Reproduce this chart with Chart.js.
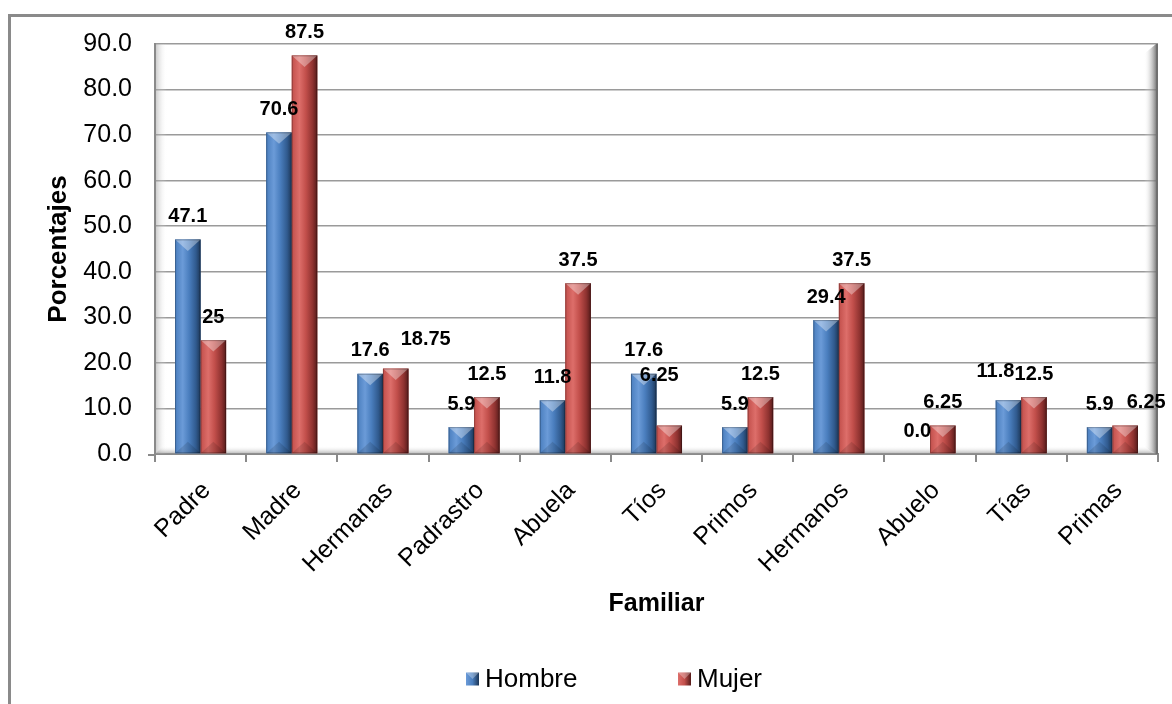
<!DOCTYPE html>
<html>
<head>
<meta charset="utf-8">
<script src="https://cdn.jsdelivr.net/npm/chart.js@4.4.1/dist/chart.umd.min.js"></script>
<style>
  html, body { margin: 0; padding: 0; background: #ffffff; }
  canvas { display: block; }
</style>
</head>
<body>
<canvas id="grafico" width="1172" height="704"></canvas>
<script>
// Familiares y porcentajes por sexo
const familiares = ['Padre', 'Madre', 'Hermanas', 'Padrastro', 'Abuela', 'Tíos', 'Primos', 'Hermanos', 'Abuelo', 'Tías', 'Primas'];
const hombre = [47.1, 70.6, 17.6, 5.9, 11.8, 17.6, 5.9, 29.4, 0.0, 11.8, 5.9];
const mujer = [25, 87.5, 18.75, 12.5, 37.5, 6.25, 12.5, 37.5, 6.25, 12.5, 6.25];
const ejeY = { min: 0, max: 90, paso: 10 };

const FUENTE = "'Liberation Sans', Arial, sans-serif";

// Tonos del relieve de cada serie: [claro, medio, oscuro, sombra]
const tonos = {
  Hombre: ['#6b9bd8', '#4a7ebe', '#305a8e', '#1d3656'],
  Mujer:  ['#dd6e6a', '#c24f4b', '#8e3230', '#551b1a']
};

// Marco exterior y paredes del área de trazado
const paredes = {
  id: 'paredes',
  beforeDraw(chart) {
    const ctx = chart.ctx;
    ctx.save();
    ctx.strokeStyle = '#8a8a8a';
    ctx.lineWidth = 3;
    ctx.beginPath();
    ctx.moveTo(9.5, 710);
    ctx.lineTo(9.5, 15.5);
    ctx.lineTo(1180, 15.5);
    ctx.stroke();
    ctx.restore();
  },
  beforeDatasetsDraw(chart) {
    const { ctx, chartArea: a } = chart;
    ctx.save();
    // pared izquierda
    let g = ctx.createLinearGradient(a.left, 0, a.left + 12, 0);
    g.addColorStop(0, 'rgba(150,150,150,0.55)');
    g.addColorStop(1, 'rgba(255,255,255,0)');
    ctx.fillStyle = g;
    ctx.fillRect(a.left + 1, a.top, 12, a.bottom - a.top);
    // suelo
    g = ctx.createLinearGradient(0, a.bottom - 8, 0, a.bottom);
    g.addColorStop(0, 'rgba(255,255,255,0)');
    g.addColorStop(1, 'rgba(140,140,140,0.7)');
    ctx.fillStyle = g;
    ctx.beginPath();
    ctx.moveTo(a.left + 8, a.bottom - 8);
    ctx.lineTo(a.right - 12, a.bottom - 8);
    ctx.lineTo(a.right - 2, a.bottom);
    ctx.lineTo(a.left, a.bottom);
    ctx.closePath();
    ctx.fill();
    // pared derecha
    g = ctx.createLinearGradient(a.right - 14, 0, a.right - 2, 0);
    g.addColorStop(0, 'rgba(255,255,255,0)');
    g.addColorStop(1, 'rgba(110,110,110,0.85)');
    ctx.fillStyle = g;
    ctx.beginPath();
    ctx.moveTo(a.right - 14, a.top + 10);
    ctx.lineTo(a.right - 2, a.top);
    ctx.lineTo(a.right - 2, a.bottom);
    ctx.lineTo(a.right - 14, a.bottom - 8);
    ctx.closePath();
    ctx.fill();
    ctx.strokeStyle = '#6f6f6f';
    ctx.lineWidth = 2;
    ctx.beginPath();
    ctx.moveTo(a.right - 1, a.top);
    ctx.lineTo(a.right - 1, a.bottom);
    ctx.stroke();
    // prolongación del eje horizontal a la izquierda
    ctx.strokeStyle = '#8a8a8a';
    ctx.beginPath();
    ctx.moveTo(a.left - 7, a.bottom + 1);
    ctx.lineTo(a.left, a.bottom + 1);
    ctx.stroke();
    ctx.restore();
  }
};

// Barras con biselado
function pintarBarra(ctx, el, t) {
  const { x, y, base, width } = el.getProps(['x', 'y', 'base', 'width'], true);
  const h = base - y;
  if (h <= 0.5) return;
  const l = x - width / 2, r = x + width / 2;
  const g = ctx.createLinearGradient(l, 0, r, 0);
  g.addColorStop(0, t[1]);
  g.addColorStop(0.3, t[0]);
  g.addColorStop(0.55, t[1]);
  g.addColorStop(0.82, t[2]);
  g.addColorStop(1, t[3]);
  ctx.fillStyle = g;
  ctx.fillRect(l, y, width, h);
  const d = Math.min(width * 0.45, h / 2);
  // cara superior
  ctx.fillStyle = 'rgba(255,255,255,0.35)';
  ctx.beginPath();
  ctx.moveTo(l, y); ctx.lineTo(r, y); ctx.lineTo(x, y + d); ctx.closePath();
  ctx.fill();
  // cara inferior
  ctx.fillStyle = 'rgba(0,0,0,0.12)';
  ctx.beginPath();
  ctx.moveTo(l, base); ctx.lineTo(r, base); ctx.lineTo(x, base - d); ctx.closePath();
  ctx.fill();
  ctx.strokeStyle = 'rgba(0,0,0,0.25)';
  ctx.lineWidth = 1;
  ctx.strokeRect(l + 0.5, y + 0.5, width - 1, h - 1);
}

const relieve = {
  id: 'relieve',
  afterDatasetsDraw(chart) {
    const ctx = chart.ctx;
    ctx.save();
    chart.data.datasets.forEach((ds, i) => {
      const meta = chart.getDatasetMeta(i);
      meta.data.forEach(el => pintarBarra(ctx, el, tonos[ds.label]));
    });
    ctx.restore();
  }
};

// Etiquetas de valor sobre las barras
const etiquetas = {
  id: 'etiquetas',
  afterDatasetsDraw(chart, args, opts) {
    const ctx = chart.ctx;
    ctx.save();
    ctx.font = 'bold 20px ' + FUENTE;
    ctx.fillStyle = '#000';
    ctx.textAlign = 'center';
    ctx.textBaseline = 'middle';
    chart.data.datasets.forEach((ds, i) => {
      const meta = chart.getDatasetMeta(i);
      const ajuste = opts.ajustes[ds.label] || {};
      meta.data.forEach((el, j) => {
        const v = ds.data[j];
        const txt = ds.label === 'Hombre' ? v.toFixed(1) : String(v);
        const a = ajuste[j] || [0, 0];
        ctx.fillText(txt, el.x + a[0], el.y - 23 + a[1]);
      });
    });
    ctx.restore();
  }
};

// Leyenda inferior
const leyenda = {
  id: 'leyenda',
  afterDraw(chart, args, opts) {
    const ctx = chart.ctx;
    ctx.save();
    ctx.font = '26px ' + FUENTE;
    ctx.textBaseline = 'middle';
    chart.data.datasets.forEach((ds, i) => {
      const bx = opts.posiciones[i], by = opts.y;
      const t = tonos[ds.label];
      const g = ctx.createLinearGradient(bx, 0, bx + 13, 0);
      g.addColorStop(0, t[0]); g.addColorStop(0.5, t[1]); g.addColorStop(1, t[3]);
      ctx.fillStyle = g;
      ctx.fillRect(bx, by - 6.5, 13, 13);
      ctx.fillStyle = 'rgba(255,255,255,0.3)';
      ctx.beginPath();
      ctx.moveTo(bx, by - 6.5); ctx.lineTo(bx + 13, by - 6.5); ctx.lineTo(bx + 6.5, by); ctx.closePath();
      ctx.fill();
      ctx.fillStyle = '#000';
      ctx.fillText(ds.label, bx + 19, by + 1);
    });
    ctx.restore();
  }
};

new Chart(document.getElementById('grafico'), {
  type: 'bar',
  data: {
    labels: familiares,
    datasets: [
      { label: 'Hombre', data: hombre, backgroundColor: tonos.Hombre[1], borderWidth: 0 },
      { label: 'Mujer', data: mujer, backgroundColor: tonos.Mujer[1], borderWidth: 0 }
    ]
  },
  options: {
    responsive: false,
    animation: false,
    events: [],
    layout: { padding: { left: 0, right: 14, top: 44, bottom: 60 } },
    datasets: { bar: { categoryPercentage: 0.56, barPercentage: 1.0 } },
    plugins: {
      legend: { display: false },
      tooltip: { enabled: false },
      etiquetas: {
        ajustes: {
          Mujer: { 2: [30, -6], 5: [-10, -27], 10: [21, 0] },
          Hombre: { 9: [-13, -6] }
        }
      },
      leyenda: { posiciones: [466, 678], y: 679 }
    },
    scales: {
      x: {
        afterFit(s) { s.height = 190; },
        grid: { display: true, drawOnChartArea: false, drawTicks: true, tickLength: 8, color: '#8a8a8a', lineWidth: 2 },
        border: { display: true, color: '#8a8a8a', width: 2 },
        ticks: { color: '#000', font: { family: FUENTE, size: 25 }, minRotation: 45, maxRotation: 45, padding: 14, labelOffset: 6, autoSkip: false },
        title: { display: true, text: 'Familiar', color: '#000', font: { family: FUENTE, size: 25, weight: 'bold' }, padding: { top: 0, bottom: 25 } }
      },
      y: {
        min: ejeY.min,
        max: ejeY.max,
        afterFit(s) { s.width = 155; },
        grid: { color: '#9a9a9a', lineWidth: 1.5, drawTicks: false },
        border: { display: true, color: '#8a8a8a', width: 2 },
        ticks: { stepSize: ejeY.paso, color: '#000', font: { family: FUENTE, size: 25 }, padding: 23, callback: v => Number(v).toFixed(1) },
        title: { display: true, text: 'Porcentajes', color: '#000', font: { family: FUENTE, size: 26, weight: 'bold' }, padding: { top: 43, bottom: 0 } }
      }
    }
  },
  plugins: [paredes, relieve, etiquetas, leyenda]
});
</script>
</body>
</html>
